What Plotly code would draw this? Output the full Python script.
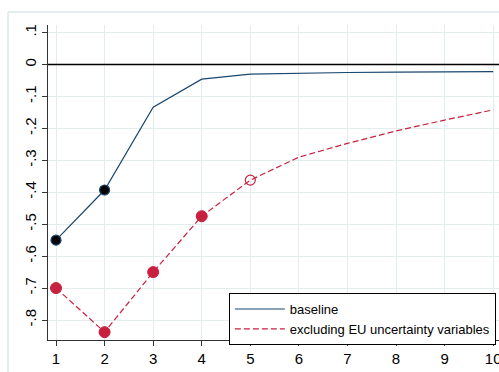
import plotly.graph_objects as go

horizons = [1, 2, 3, 4, 5, 6, 7, 8, 9, 10]
baseline = [-0.55, -0.393, -0.134, -0.046, -0.030, -0.027, -0.025, -0.024, -0.023, -0.022]
excluding = [-0.70, -0.838, -0.650, -0.475, -0.362, -0.290, -0.247, -0.208, -0.174, -0.142]
base_sig = [1, 2]
excl_sig = [1, 2, 3, 4]
excl_open = [5]
ytick_vals = [0.1, 0, -0.1, -0.2, -0.3, -0.4, -0.5, -0.6, -0.7, -0.8]
ytick_text = [".1", "0", "-.1", "-.2", "-.3", "-.4", "-.5", "-.6", "-.7", "-.8"]

NAVY = "#1a476f"
RED = "#c8203f"

fig = go.Figure()
fig.add_trace(go.Scatter(x=horizons, y=baseline, mode="lines", name="baseline",
                         line=dict(color=NAVY, width=1.2)))
fig.add_trace(go.Scatter(x=horizons, y=excluding, mode="lines",
                         name="excluding EU uncertainty variables",
                         line=dict(color=RED, width=1.2, dash="6px,3px")))
fig.add_trace(go.Scatter(x=base_sig, y=[baseline[h - 1] for h in base_sig], mode="markers",
                         showlegend=False,
                         marker=dict(color="black", size=10, line=dict(color=NAVY, width=1.2))))
fig.add_trace(go.Scatter(x=excl_sig, y=[excluding[h - 1] for h in excl_sig], mode="markers",
                         showlegend=False,
                         marker=dict(color=RED, size=11, line=dict(color=RED, width=1))))
fig.add_trace(go.Scatter(x=excl_open, y=[excluding[h - 1] for h in excl_open], mode="markers",
                         showlegend=False,
                         marker=dict(symbol="circle-open", color=RED, size=10, line=dict(width=1.2))))

fig.add_hline(y=0, line=dict(color="black", width=1.3))

# outer graph-region border
fig.add_shape(type="line", xref="paper", yref="paper", x0=-0.0887, x1=1.2, y0=1.0413, y1=1.0413,
              line=dict(color="#dde8e9", width=1.5))
fig.add_shape(type="line", xref="paper", yref="paper", x0=-0.0887, x1=-0.0887, y0=-0.2, y1=1.0413,
              line=dict(color="#dde8e9", width=1.5))

fig.update_layout(
    width=499, height=372,
    margin=dict(l=48, r=0, t=25, b=32),
    paper_bgcolor="white", plot_bgcolor="white",
    font=dict(family="Liberation Sans, Arial, sans-serif", size=15, color="black"),
    legend=dict(x=0.401, y=0.149, xanchor="left", yanchor="top",
                bordercolor="black", borderwidth=1, bgcolor="white",
                font=dict(size=13), tracegroupgap=0, itemwidth=50),
    showlegend=True,
)
fig.update_xaxes(range=[0.835, 10.12], tickvals=horizons, showgrid=True, gridcolor="#e4eded",
                 gridwidth=1.2, showline=True, linecolor="#333333", linewidth=1.2,
                 ticks="outside", ticklen=5, tickcolor="#333333", zeroline=False,
                 automargin=False, ticklabeloverflow="allow")
fig.update_yaxes(range=[-0.8626, 0.1237], tickvals=ytick_vals, ticktext=ytick_text,
                 tickangle=-90, showgrid=True, gridcolor="#e4eded", gridwidth=1.2,
                 showline=True, linecolor="#333333", linewidth=1.2,
                 ticks="outside", ticklen=5, tickcolor="#333333", zeroline=False,
                 automargin=False)

fig.write_html("out.html")
